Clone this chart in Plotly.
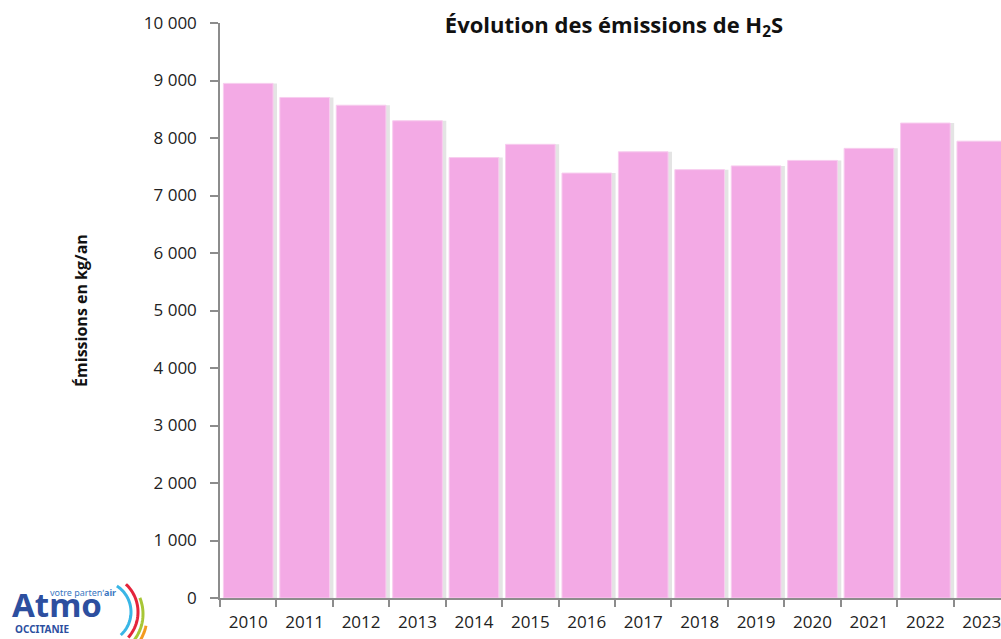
import math
import plotly.graph_objects as go

years = ["2010", "2011", "2012", "2013", "2014", "2015", "2016",
         "2017", "2018", "2019", "2020", "2021", "2022", "2023"]
emissions = [8950, 8705, 8570, 8300, 7660, 7890, 7390,
             7760, 7450, 7515, 7610, 7820, 8260, 7945]
y_ticks = [0, 1000, 2000, 3000, 4000, 5000, 6000, 7000, 8000, 9000, 10000]

W, H = 1001, 639
L, R, T, B = 220, 0, 23, 41
PW, PH = W - L - R, H - T - B


def px(x):
    return (x - L) / PW


def py(y):
    return (H - B - y) / PH


fig = go.Figure()
# shadow
fig.add_trace(go.Bar(x=years, y=emissions, width=0.88, offset=-0.37,
                     marker=dict(color="#e4e4e4", line=dict(width=0)),
                     hoverinfo="skip", showlegend=False))
fig.add_trace(go.Bar(x=years, y=emissions, width=0.88, offset=-0.44,
                     marker=dict(color="#f3aae5", line=dict(color="#f8cdef", width=1)),
                     showlegend=False))

shapes = []
# logo arcs
arcs = [
    (100, 612, 31, -57, 48, "#39b6e6"),
    (100, 612, 38, -47, 42, "#e4243b"),
    (100, 614, 43, -22, 40, "#a7c636"),
    (100, 616, 47, 12, 40, "#f39a1e"),
]
for cx, cy, r, a0, a1, col in arcs:
    pts = []
    n = 30
    for i in range(n + 1):
        a = math.radians(a0 + (a1 - a0) * i / n)
        xx = cx + r * math.cos(a)
        yy = cy + r * math.sin(a)
        pts.append((px(xx), py(yy)))
    path = "M " + " L ".join(f"{a:.5f},{b:.5f}" for a, b in pts)
    shapes.append(dict(type="path", path=path, xref="paper", yref="paper",
                       line=dict(color=col, width=3)))

annotations = [
    dict(text="Atmo", x=px(57), y=py(617), xref="paper", yref="paper",
         showarrow=False, xanchor="center", yanchor="bottom", yshift=-12,
         font=dict(family="Noto Sans", size=33, color="#2d4f9f", weight="bold")),
    dict(text="OCCITANIE", x=px(42), y=py(628.5), xref="paper", yref="paper",
         showarrow=False, xanchor="center", yanchor="middle",
         font=dict(family="Noto Sans", size=10, color="#2d4f9f", weight="bold")),
    dict(text="votre partenʼ<b>air</b>", x=px(83), y=py(592), xref="paper", yref="paper",
         showarrow=False, xanchor="center", yanchor="middle",
         font=dict(family="Noto Sans", size=9, color="#3a78c2")),
]

fig.update_layout(
    width=W, height=H,
    margin=dict(l=L, r=R, t=T, b=B, pad=0),
    paper_bgcolor="white", plot_bgcolor="white",
    barmode="overlay",
    separators=", ",
    font=dict(family="Open Sans", size=17, color="#222222"),
    title=dict(text="<b>Évolution des émissions de H<sub>2</sub>S</b>",
               xref="container", x=614 / W, xanchor="center",
               yref="container", y=1 - 25 / H, yanchor="middle",
               font=dict(family="Open Sans", size=22, color="#111111")),
    xaxis=dict(type="category", range=[-0.5, 13.34], tickson="boundaries",
               showline=True, linecolor="#8c8c8c", linewidth=1.5,
               ticks="outside", ticklen=7, tickcolor="#8c8c8c", tickwidth=1.5,
               ticklabelstandoff=8,
               showgrid=False, tickfont=dict(size=17, color="#222222")),
    yaxis=dict(range=[0, 10000], tickvals=y_ticks, tickformat=",d",
               showline=True, linecolor="#8c8c8c", linewidth=1.5,
               ticks="outside", ticklen=8, tickcolor="#8c8c8c", tickwidth=1.5,
               ticklabelstandoff=10,
               showgrid=False, zeroline=False,
               tickfont=dict(size=17, color="#222222"),
               title=dict(text="<b>Émissions en kg/an</b>", standoff=52,
                          font=dict(family="Open Sans", size=16, color="#111111"))),
    shapes=shapes,
    annotations=annotations,
)

fig.write_html("out.html", config={"displayModeBar": False},
               post_script="document.body.style.margin='0px';")
